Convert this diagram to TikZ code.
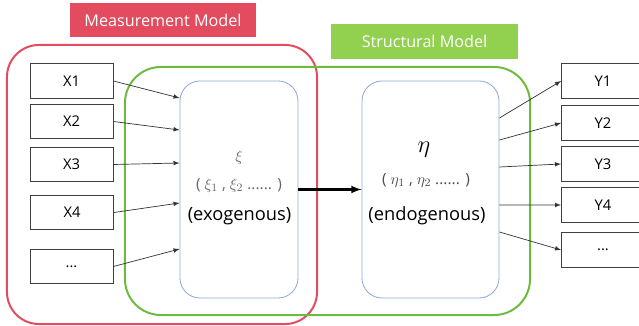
\documentclass[tikz,border=0pt]{standalone}
\usepackage{fontspec}
\setmainfont{Open Sans}
\usetikzlibrary{positioning,arrows,calc}
\definecolor{mred}{HTML}{E34B5F}
\definecolor{sgreen}{HTML}{92D050}
\definecolor{ogreen}{HTML}{6DBB3C}
\definecolor{lblue}{HTML}{8EAADB}

\begin{document}
\begin{tikzpicture}[x=0.025cm, y=-0.025cm,
	obs/.style={rectangle, draw=black!75, line width=0.6pt, minimum width=2.075cm, minimum height=0.86cm, inner sep=0pt, font=\fontsize{10.5}{12}\selectfont},
	latent/.style={rectangle, rounded corners=0.5cm, draw=lblue, line width=0.6pt, minimum width=2.95cm, minimum height=5.425cm},
	title/.style={rectangle, inner sep=0pt, text=white, font=\fontsize{11.5}{13}\selectfont},
	link/.style={->, >=latex, draw=black!80, line width=0.5pt}]
				\clip (0,0) rectangle (639,326);
				\node[title, fill=mred, minimum width=4.65cm, minimum height=0.85cm] (mtitle) at (163,20) {Measurement Model};
				\node[title, fill=sgreen, minimum width=4.675cm, minimum height=0.875cm] (stitle) at (424.5,41.5) {Structural Model};
				\node[rectangle, rounded corners=0.8cm, draw=mred, line width=1.4pt, minimum width=7.75cm, minimum height=6.975cm] (mbox) at (162,184.5) {};
				\node[rectangle, rounded corners=0.9cm, draw=ogreen, line width=1.4pt, minimum width=10.125cm, minimum height=6.2cm] (sbox) at (327.5,191) {};
				\node[latent] (exo) at (239,189.5) {};
				\node[latent, minimum width=3.425cm] (endo) at (430.5,189.5) {};
				\node[text=black!60, font=\fontsize{11}{13}\selectfont] (xi) at (239,158) {$\xi$};
				\node[text=black!60, font=\fontsize{11}{13}\selectfont] (xilist) at (239,185) {( $\xi_1$ , $\xi_2$ ...... )};
				\node[font=\fontsize{13}{15}\selectfont] (exolbl) at (239.5,216) {(exogenous)};
				\node[font=\fontsize{18}{20}\selectfont] (eta) at (424,150) {$\eta$};
				\node[text=black!70, font=\fontsize{11}{13}\selectfont] (etalist) at (426,180) {( $\eta_1$ , $\eta_2$ ...... )};
				\node[font=\fontsize{13}{15}\selectfont] (endolbl) at (427,216) {(endogenous)};
				\node[obs] (X1) at (71.5,81) {X1};
				\node[obs] (X2) at (71.5,121.5) {X2};
				\node[obs] (X3) at (71.5,164.5) {X3};
				\node[obs] (X4) at (72,212.5) {X4};
				\node[obs] (X5) at (71.5,266.5) {...};
				\node[obs] (Y1) at (603,81) {Y1};
				\node[obs] (Y2) at (603,123) {Y2};
				\node[obs] (Y3) at (603,164) {Y3};
				\node[obs] (Y4) at (603,205) {Y4};
				\node[obs] (Y5) at (603,250) {...};
				\draw[link] (X1.east) -- ($(exo.west)+(0,-91.5)$);
				\draw[link] (X2.east) -- ($(exo.west)+(0,-59.5)$);
				\draw[link] (X3.east) -- ($(exo.west)+(0,-26.5)$);
				\draw[link] (X4.east) -- ($(exo.west)+(0,13.5)$);
				\draw[link] (X5.east) -- ($(exo.west)+(0,59.5)$);
				\draw[link] ($(endo.east)+(0,-71.5)$) -- (Y1.west);
				\draw[link] ($(endo.east)+(0,-49.5)$) -- (Y2.west);
				\draw[link] ($(endo.east)+(0,-22.5)$) -- (Y3.west);
				\draw[link] ($(endo.east)+(0,15.5)$) -- (Y4.west);
				\draw[link] ($(endo.east)+(0,42.5)$) -- (Y5.west);
				\draw[->, >=latex, line width=1.5pt] (exo.east) -- (endo.west);
			\end{tikzpicture}
\end{document}
